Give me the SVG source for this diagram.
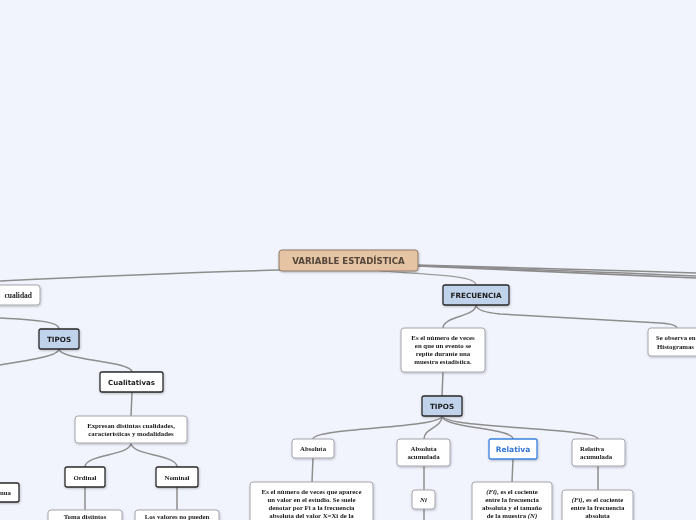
<svg xmlns="http://www.w3.org/2000/svg" width="696" height="520" viewBox="0 0 696 520">
<defs>
<filter id="sh" x="-20%" y="-20%" width="140%" height="160%">
<feDropShadow dx="0.6" dy="1" stdDeviation="0.8" flood-color="#000" flood-opacity="0.25"/>
</filter>
<style>
.c{fill:none;stroke:#8e8e8e;stroke-width:1.5}
.ct{fill:none;stroke:#9c9c9c;stroke-width:1.2}
.cb{fill:none;stroke:#8c8c8c;stroke-width:1.6}
.root{fill:#e5c4a3;stroke:#8c7966;stroke-width:1}
.blue{fill:#c1d3eb;stroke:#2a2a2a;stroke-width:1.3}
.wd{fill:#ffffff;stroke:#2a2a2a;stroke-width:1.3}
.wl{fill:#ffffff;stroke:#a6a6ae;stroke-width:1}
.wb{fill:#ffffff;stroke:#3b82e0;stroke-width:1.3}
.s{font-family:"DejaVu Sans",Verdana,sans-serif;font-weight:bold;text-anchor:middle;fill:#1a1a1a}
.t{font-family:"Liberation Serif","Times New Roman",serif;font-weight:bold;font-size:6.8px;text-anchor:middle;fill:#1a1a1a}
</style>
</defs>
<rect width="696" height="520" fill="#f1f4fd"/>
<g id="connectors">
<path class="c" d="M282,270 C200,272 80,277 0,281"/>
<path class="cb" d="M417,265 C500,267 600,270 696,273"/>
<path class="cb" d="M417,266 C500,268 600,272 696,276"/>
<path class="cb" d="M417,266 C500,269 600,274 696,278"/>
<path class="ct" d="M380,271 C440,275 476,276 476,285"/>
<path class="c" d="M0,318 C40,320 59,322 59,329"/>
<path class="c" d="M59,349 C59,356 30,360 0,365"/>
<path class="c" d="M59,349 C59,360 132,361 132,372"/>
<path class="c" d="M132,392 L131,416"/>
<path class="c" d="M131,443 C131,456 85,454 85,467"/>
<path class="c" d="M131,443 C131,456 177,454 177,467"/>
<path class="c" d="M85,487 L85,510"/>
<path class="c" d="M177,487 L177,510"/>
<path class="c" d="M476,305 C476,317 443,316 443,328"/>
<path class="c" d="M476,305 Q477,312 500,314 L660,323 Q676,324 677,328"/>
<path class="c" d="M443,372 L442,396"/>
<path class="c" d="M442,416 C442,428 313,428 313,439"/>
<path class="c" d="M442,416 C442,428 424,428 424,439"/>
<path class="c" d="M442,416 C442,428 513,428 513,439"/>
<path class="c" d="M442,416 C442,428 598,428 598,439"/>
<path class="c" d="M313,458 L312,482"/>
<path class="c" d="M424,466 L424,490"/>
<path class="c" d="M424,509 L424,520"/>
<path class="c" d="M513,459 L512,482"/>
<path class="c" d="M598,466 L598,490"/>
</g>
<g id="root" filter="url(#sh)">
<rect class="root" x="279" y="250" width="139" height="21" rx="3"/>
<text class="s" x="348.5" y="264" font-size="8.6" style="fill:#55473a">VARIABLE ESTADÍSTICA</text>
</g>
<g id="cualidad" filter="url(#sh)">
<rect class="wl" x="-10" y="285" width="50" height="20" rx="3"/>
<text class="t" x="32" y="298" style="text-anchor:end;font-size:7.5px">cualidad</text>
</g>
<g id="tipos-left" filter="url(#sh)">
<rect class="blue" x="39" y="329" width="40" height="20" rx="2"/>
<text class="s" x="59" y="341.5" font-size="7.2">TIPOS</text>
</g>
<g id="cualitativas" filter="url(#sh)">
<rect class="wd" x="100" y="372" width="63" height="20" rx="2"/>
<text class="s" x="131.5" y="385" font-size="7">Cualitativas</text>
</g>
<g id="expresan" filter="url(#sh)">
<rect class="wl" x="75" y="416" width="112" height="27" rx="3"/>
<text class="t" x="131" y="428">Expresan distintas cualidades,</text>
<text class="t" x="131" y="436">características y modalidades</text>
</g>
<g id="ordinal" filter="url(#sh)">
<rect class="wd" x="65" y="467" width="40" height="20" rx="2"/>
<text class="t" x="85" y="479.5">Ordinal</text>
</g>
<g id="nominal" filter="url(#sh)">
<rect class="wd" x="156" y="467" width="42" height="20" rx="2"/>
<text class="t" x="177" y="479.5">Nominal</text>
</g>
<g id="toma" filter="url(#sh)">
<rect class="wl" x="48" y="510" width="74" height="20" rx="3"/>
<text class="t" x="85" y="518.5">Toma distintos</text>
</g>
<g id="valores" filter="url(#sh)">
<rect class="wl" x="135" y="510" width="84" height="20" rx="3"/>
<text class="t" x="177" y="518.5">Los valores no pueden</text>
</g>
<g id="continua" filter="url(#sh)">
<rect class="wd" x="-30" y="483" width="49" height="19" rx="2"/>
<text class="t" x="11" y="495" style="text-anchor:end">nua</text>
</g>
<g id="frecuencia" filter="url(#sh)">
<rect class="blue" x="443" y="285" width="66" height="20" rx="2"/>
<text class="s" x="476" y="297.5" font-size="7.2">FRECUENCIA</text>
</g>
<g id="definicion" filter="url(#sh)">
<rect class="wl" x="401" y="328" width="84" height="44" rx="3"/>
<text class="t" x="443" y="340">Es el número de veces</text>
<text class="t" x="443" y="348">en que un evento se</text>
<text class="t" x="443" y="356">repite durante una</text>
<text class="t" x="443" y="364">muestra estadística.</text>
</g>
<g id="histogramas" filter="url(#sh)">
<rect class="wl" x="648" y="328" width="60" height="28" rx="3"/>
<text class="t" x="656" y="340" style="text-anchor:start">Se observa en</text>
<text class="t" x="657" y="349" style="text-anchor:start">Histogramas</text>
</g>
<g id="tipos-right" filter="url(#sh)">
<rect class="blue" x="422" y="396" width="40" height="20" rx="2"/>
<text class="s" x="442" y="408.5" font-size="7.2">TIPOS</text>
</g>
<g id="absoluta" filter="url(#sh)">
<rect class="wl" x="292" y="439" width="42" height="19" rx="3"/>
<text class="t" x="313" y="451">Absoluta</text>
</g>
<g id="absoluta-acumulada" filter="url(#sh)">
<rect class="wl" x="397" y="439" width="53" height="27" rx="3"/>
<text class="t" x="423.5" y="451">Absoluta</text>
<text class="t" x="423.5" y="459">acumulada</text>
</g>
<g id="relativa" filter="url(#sh)">
<rect class="wb" x="489" y="439" width="48" height="20" rx="2"/>
<text class="s" x="513" y="452" font-size="7.5" style="fill:#2f74d6">Relativa</text>
</g>
<g id="relativa-acumulada" filter="url(#sh)">
<rect class="wl" x="572" y="439" width="53" height="27" rx="3"/>
<text class="t" x="580" y="451" style="text-anchor:start">Relativa</text>
<text class="t" x="580" y="459" style="text-anchor:start">acumulada</text>
</g>
<g id="absoluta-def" filter="url(#sh)">
<rect class="wl" x="250" y="482" width="123" height="50" rx="3"/>
<text class="t" x="311.5" y="494">Es el número de veces que aparece</text>
<text class="t" x="311.5" y="502">un valor en el estudio. Se suele</text>
<text class="t" x="311.5" y="510">denotar por Fi a la frecuencia</text>
<text class="t" x="311.5" y="518">absoluta del valor X=Xi de la</text>
</g>
<g id="ni" filter="url(#sh)">
<rect class="wl" x="412" y="490" width="23" height="19" rx="3"/>
<text class="t" x="423.5" y="501.5" font-style="italic">Ni</text>
</g>
<g id="relativa-def" filter="url(#sh)">
<rect class="wl" x="472" y="482" width="80" height="50" rx="3"/>
<text class="t" x="512" y="494"><tspan font-style="italic">(Fi)</tspan>, es el cociente</text>
<text class="t" x="512" y="502">entre la frecuencia</text>
<text class="t" x="512" y="510">absoluta y el tamaño</text>
<text class="t" x="512" y="518">de la muestra <tspan font-style="italic">(N)</tspan></text>
</g>
<g id="relativa-acumulada-def" filter="url(#sh)">
<rect class="wl" x="562" y="490" width="71" height="40" rx="3"/>
<text class="t" x="597.5" y="502"><tspan font-style="italic">(Fi)</tspan>, es el cociente</text>
<text class="t" x="597.5" y="510">entre la frecuencia</text>
<text class="t" x="597.5" y="518">absoluta</text>
</g>
</svg>
